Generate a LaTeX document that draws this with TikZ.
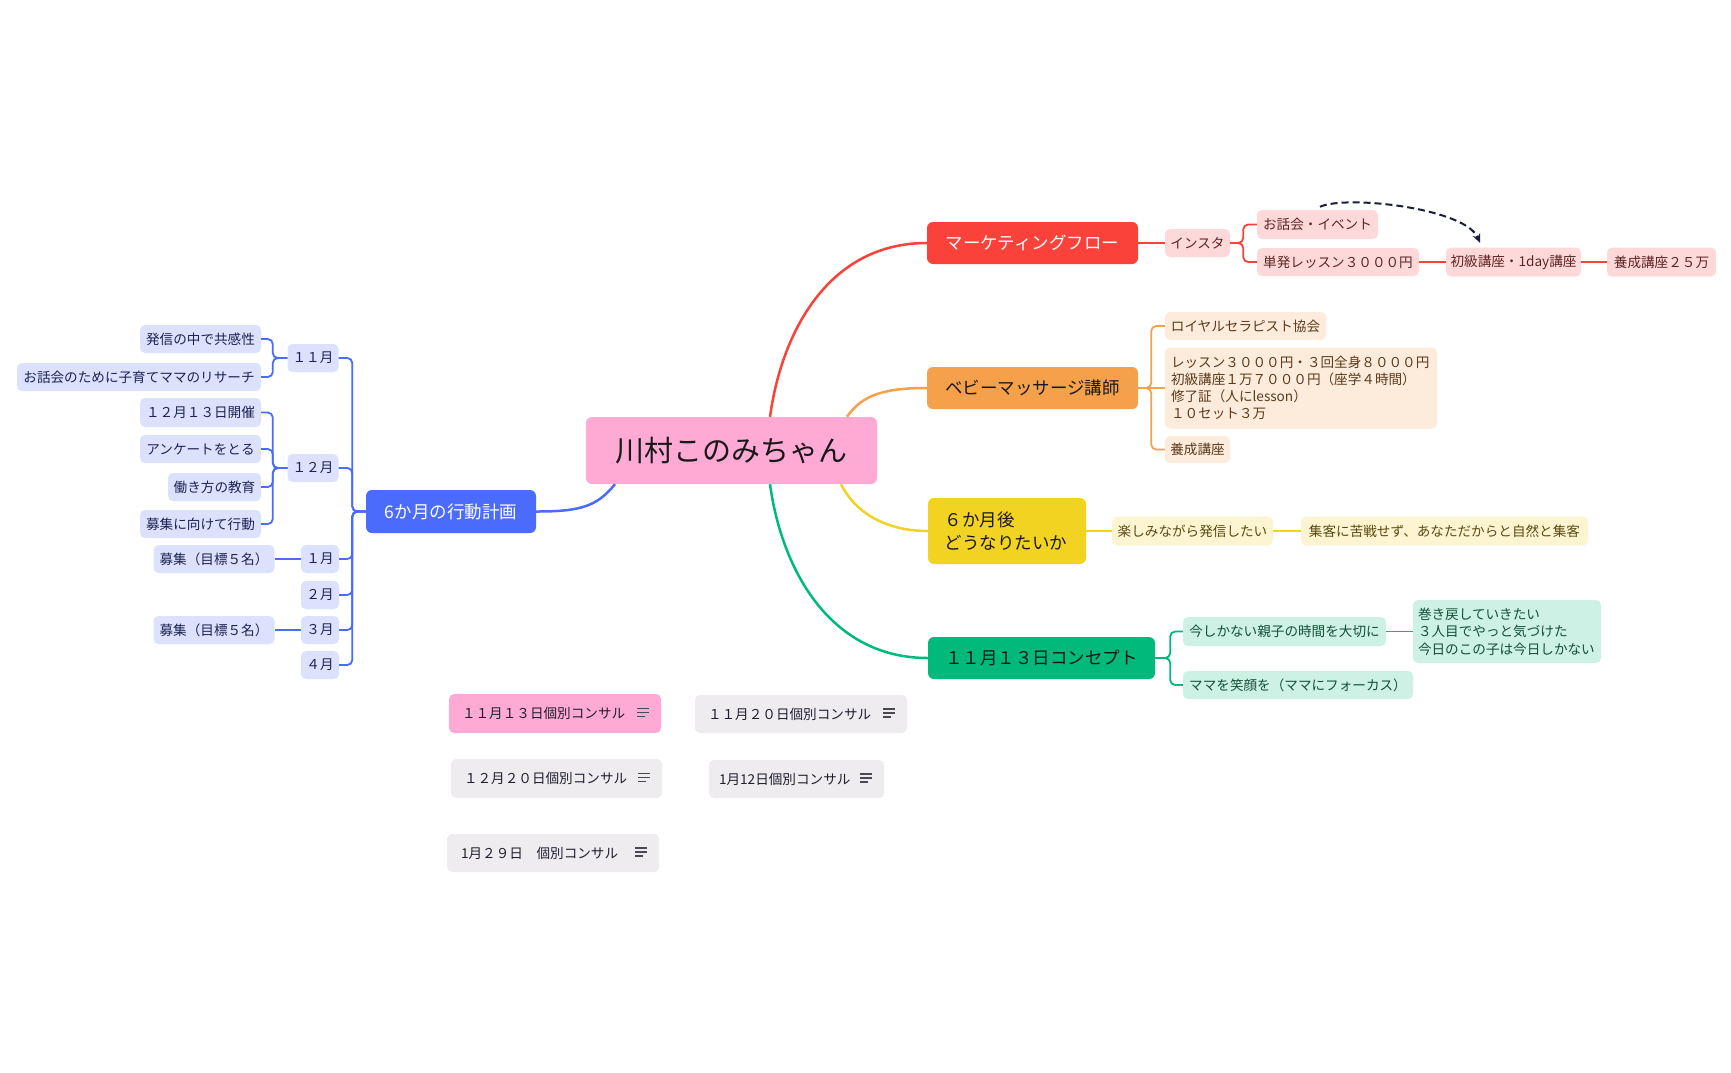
\documentclass[tikz,border=0pt]{standalone}
\usepackage{fontspec}
\setmainfont{Noto Sans CJK JP}
\usetikzlibrary{arrows.meta,calc}
\definecolor{centerc}{HTML}{FEAAD5}
\definecolor{bluec}{HTML}{4A6BFB}
\definecolor{bsub}{HTML}{DCE2FE}
\definecolor{btxt}{HTML}{1B2352}
\definecolor{redc}{HTML}{FB423A}
\definecolor{rsub}{HTML}{FFD9D9}
\definecolor{rtxt}{HTML}{5E2424}
\definecolor{orc}{HTML}{F5A04B}
\definecolor{osub}{HTML}{FDEBDB}
\definecolor{otxt}{HTML}{5C3A1C}
\definecolor{yelc}{HTML}{F2D322}
\definecolor{ysub}{HTML}{FDF5D2}
\definecolor{ytxt}{HTML}{5B4A12}
\definecolor{grc}{HTML}{00B97B}
\definecolor{gsub}{HTML}{CDF1E4}
\definecolor{gtxt}{HTML}{14503A}
\definecolor{grayc}{HTML}{EEECEF}
\definecolor{ctxt}{HTML}{1F1F2E}
\definecolor{iconc}{HTML}{4A4850}
\definecolor{arrowc}{HTML}{1B1E3A}
\newcommand\menuicon[1]{%
  \draw[iconline] ([xshift=-24pt,yshift=5pt]#1.east) -- ++(12,0);
  \draw[iconline] ([xshift=-24pt,yshift=1pt]#1.east) -- ++(12,0);
  \draw[iconline] ([xshift=-24pt,yshift=-3pt]#1.east) -- ++(8,0);}
\begin{document}
\begin{tikzpicture}[x=1pt,y=-1pt,
  box/.style={inner sep=0pt, rounded corners=5pt, font=\fontsize{13.6}{17}\selectfont},
  wh/.style 2 args={minimum width=#1, minimum height=#2},
  topic/.style={box, rounded corners=6pt, font=\fontsize{17.5}{23}\selectfont},
  bsubn/.style={box, fill=bsub, text=btxt},
  rsubn/.style={box, fill=rsub, text=rtxt},
  osubn/.style={box, fill=osub, text=otxt},
  ysubn/.style={box, fill=ysub, text=ytxt},
  gsubn/.style={box, fill=gsub, text=gtxt},
  consult/.style={box, fill=grayc, text=ctxt, align=left},
  branch/.style={line width=2.5pt},
  con/.style={line width=1.8pt, rounded corners=5pt},
  iconline/.style={line width=1.8pt, draw=iconc},
  dasharrow/.style={line width=2pt, draw=arrowc, dash pattern=on 7pt off 4pt,
    -{Stealth[length=9pt,width=8pt]}},
]
\fill[white] (0,0) rectangle (1731,1072);
\useasboundingbox (0,0) rectangle (1731,1072);

% central and main topics
\node[topic, fill=centerc, wh={291}{67}, font=\fontsize{29}{34}\selectfont, text=black!90] (c) at (731.5,450.5) {川村このみちゃん};
\node[topic, fill=bluec, text=white, wh={170}{43}] (plan) at (451,511.5) {6か月の行動計画};
\node[topic, fill=redc, text=white, wh={211}{42}] (mkt) at (1032.5,243) {マーケティングフロー};
\node[topic, fill=orc, text=black!90, wh={211}{42}] (baby) at (1032.5,388) {ベビーマッサージ講師};
\node[topic, fill=yelc, text=black!90, wh={158}{66}, align=left, text width=125pt, inner xsep=16.5pt] (six) at (1007,531) {６か月後\\どうなりたいか};
\node[topic, fill=grc, text=black!90, wh={227}{42}] (conc) at (1041.5,658) {１１月１３日コンセプト};

% marketing
\node[rsubn, wh={65}{28}] (insta) at (1197.5,243) {インスタ};
\node[rsubn, wh={121}{29}] (event) at (1317.5,224.5) {お話会・イベント};
\node[rsubn, wh={162}{28}] (single) at (1338,262) {単発レッスン３０００円};
\node[rsubn, wh={135}{29}] (basic) at (1513.5,262) {初級講座・1day講座};
\node[rsubn, wh={109}{29}] (train) at (1661.5,262) {養成講座２５万};

% baby massage
\node[osubn, wh={161}{28}] (royal) at (1245.5,326) {ロイヤルセラピスト協会};
\node[osubn, wh={272}{81}, align=left, text width=260pt, inner xsep=6pt] (price) at (1301,388) {レッスン３０００円・３回全身８０００円\\初級講座１万７０００円（座学４時間）\\修了証（人にlesson）\\１０セット３万};
\node[osubn, wh={65}{27}] (yosei) at (1197.5,449.5) {養成講座};

% six months
\node[ysubn, wh={161}{29}] (enjoy) at (1192.5,531) {楽しみながら発信したい};
\node[ysubn, wh={287}{29}] (natural) at (1444.5,531) {集客に苦戦せず、あなただからと自然と集客};

% concept
\node[gsubn, wh={203}{29}] (now) at (1284.5,631.5) {今しかない親子の時間を大切に};
\node[gsubn, wh={188}{63}, align=left, text width=178pt, inner xsep=5pt, font=\fontsize{13.6}{17.5}\selectfont] (rewind) at (1507,631.5) {巻き戻していきたい\\３人目でやっと気づけた\\今日のこの子は今日しかない};
\node[gsubn, wh={230}{28}] (smile) at (1298,685) {ママを笑顔を（ママにフォーカス）};

% plan
\node[bsubn, wh={51}{28}] (nov) at (313,358) {１１月};
\node[bsubn, wh={51}{28}] (dec) at (313,468) {１２月};
\node[bsubn, wh={38}{28}] (jan) at (320,559) {１月};
\node[bsubn, wh={38}{28}] (feb) at (320,595) {２月};
\node[bsubn, wh={38}{28}] (mar) at (320,630) {３月};
\node[bsubn, wh={38}{28}] (apr) at (320,665) {４月};
\node[bsubn, wh={121}{28}] (n1) at (200.5,339) {発信の中で共感性};
\node[bsubn, wh={244}{28}] (n2) at (139,377) {お話会のために子育てママのリサーチ};
\node[bsubn, wh={121}{29}] (d1) at (200.5,412.5) {１２月１３日開催};
\node[bsubn, wh={121}{28}] (d2) at (200.5,449) {アンケートをとる};
\node[bsubn, wh={93}{28}] (d3) at (214.5,487) {働き方の教育};
\node[bsubn, wh={121}{28}] (d4) at (200.5,524) {募集に向けて行動};
\node[bsubn, wh={121}{28}] (j1) at (214,559) {募集（目標５名）};
\node[bsubn, wh={121}{28}] (m1) at (214,630) {募集（目標５名）};

% consult cards
\node[consult, fill=centerc, wh={212}{39}, text width=186pt, inner xsep=13pt] (k1) at (555,713.5) {１１月１３日個別コンサル};
\node[consult, wh={212}{38}, text width=186pt, inner xsep=13pt] (k2) at (801,714) {１１月２０日個別コンサル};
\node[consult, wh={211}{39}, text width=185pt, inner xsep=13pt] (k3) at (556.5,778.5) {１２月２０日個別コンサル};
\node[consult, wh={175}{38}, text width=155pt, inner xsep=10pt] (k4) at (796.5,779) {1月12日個別コンサル};
\node[consult, wh={212}{38}, text width=184pt, inner xsep=14pt] (k5) at (553,853) {1月２９日　個別コンサル};
\menuicon{k1}\menuicon{k2}\menuicon{k3}\menuicon{k4}\menuicon{k5}

% main branches
\draw[branch, draw=redc] ([xshift=38.5pt]c.north) .. controls +(12,-87) and +(-97,0) .. (mkt.west);
\draw[branch, draw=orc] ([xshift=115.5pt]c.north) .. controls +(15,-22) and +(-42,0) .. (baby.west);
\draw[branch, draw=yelc] ([xshift=109.5pt]c.south) .. controls +(15,30) and +(-40,0) .. (six.west);
\draw[branch, draw=grc] ([xshift=38.5pt]c.south) .. controls +(12,87) and +(-97,0) .. (conc.west);
\draw[branch, draw=bluec] ([xshift=-116.5pt]c.south) .. controls +(-18,22) and +(45,0) .. (plan.east);

% marketing connectors
\draw[con, draw=redc] (mkt.east) -- (insta.west);
\draw[con, draw=redc] (insta.east) -- ++(13,0) |- (event.west);
\draw[con, draw=redc] (insta.east) -- ++(13,0) |- (single.west);
\draw[con, draw=redc] (single.east) -- (basic.west);
\draw[con, draw=redc] (basic.east) -- (train.west);
\draw[dasharrow] ([xshift=2.5pt,yshift=3pt]event.north) .. controls +(25,-12) and +(-15,-35) .. ([xshift=-33.5pt,yshift=4.5pt]basic.north);

% baby connectors
\draw[con, draw=orc] (baby.east) -- ++(13,0) |- (royal.west);
\draw[con, draw=orc] (baby.east) -- (price.west);
\draw[con, draw=orc] (baby.east) -- ++(13,0) |- (yosei.west);

% six months connectors
\draw[con, draw=yelc] (six.east) -- (enjoy.west);
\draw[con, draw=yelc] (enjoy.east) -- (natural.west);

% concept connectors
\draw[con, draw=grc] (conc.east) -- ++(15,0) |- (now.west);
\draw[con, draw=grc] (conc.east) -- ++(15,0) |- (smile.west);
\draw[con, draw=grc] (now.east) -- (rewind.west);

% plan connectors
\foreach \m in {nov,dec,jan,feb,mar,apr}{
  \draw[con, draw=bluec] (plan.west) -- ++(-13.5,0) |- (\m.east);
}
\draw[con, draw=bluec] (nov.west) -- ++(-14.5,0) |- (n1.east);
\draw[con, draw=bluec] (nov.west) -- ++(-14.5,0) |- (n2.east);
\foreach \d in {d1,d2,d3,d4}{
  \draw[con, draw=bluec] (dec.west) -- ++(-14.5,0) |- (\d.east);
}
\draw[con, draw=bluec] (jan.west) -- (j1.east);
\draw[con, draw=bluec] (mar.west) -- (m1.east);
\end{tikzpicture}
\end{document}
